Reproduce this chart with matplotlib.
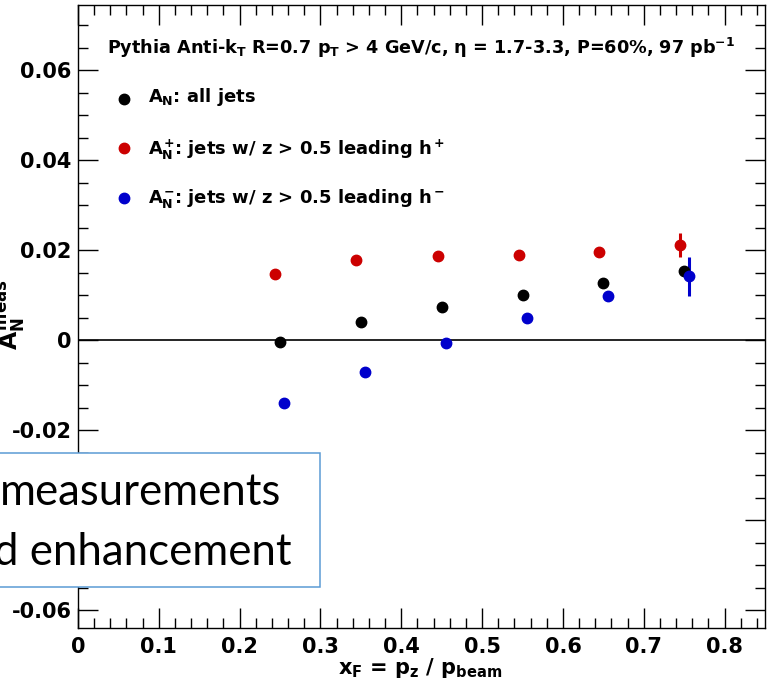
import matplotlib
matplotlib.use("Agg")
import matplotlib.pyplot as plt
from matplotlib.ticker import MultipleLocator
from matplotlib.patches import Rectangle

W, H = 770, 691

plt.rcParams.update({
    "font.family": "DejaVu Sans",
    "font.weight": "bold",
    "mathtext.fontset": "custom",
    "mathtext.rm": "DejaVu Sans:bold",
    "mathtext.it": "DejaVu Sans:bold",
    "mathtext.bf": "DejaVu Sans:bold",
    "mathtext.sf": "DejaVu Sans:bold",
})

# ── data ─────────────────────────────────────────────────────────────
xf_all = [0.250, 0.350, 0.450, 0.550, 0.650, 0.750]
an_all = [-0.0004, 0.0040, 0.0073, 0.0100, 0.0127, 0.0153]
er_all = [0.0003, 0.0004, 0.0005, 0.0006, 0.0008, 0.0010]

xf_pos = [0.244, 0.344, 0.445, 0.546, 0.645, 0.745]
an_pos = [0.0147, 0.0178, 0.0187, 0.0189, 0.0196, 0.0211]
er_pos = [0.0004, 0.0005, 0.0006, 0.0007, 0.0010, 0.0027]

xf_neg = [0.255, 0.355, 0.455, 0.555, 0.656, 0.756]
an_neg = [-0.0140, -0.0071, -0.0007, 0.0049, 0.0098, 0.0142]
er_neg = [0.0005, 0.0006, 0.0007, 0.0008, 0.0011, 0.0043]

labels = [r"$A_N$: all jets",
          r"$A_N^{+}$: jets w/ z > 0.5 leading $h^{+}$",
          r"$A_N^{-}$: jets w/ z > 0.5 leading $h^{-}$"]
colors = ["black", "#cc0000", "#0000cc"]
header = r"Pythia Anti-k$_T$ R=0.7 p$_T$ > 4 GeV/c, η = 1.7-3.3, P=60%, 97 pb$^{-1}$"


def fp(x, y):
    """pixel (from top-left) -> figure fraction"""
    return x / W, 1 - y / H


fig = plt.figure(figsize=(W / 100, H / 100), dpi=100)
ax = fig.add_axes([78 / W, 1 - 628 / H, (765 - 78) / W, (628 - 5) / H])

series = [(xf_all, an_all, er_all), (xf_pos, an_pos, er_pos), (xf_neg, an_neg, er_neg)]
for (xs, ys, es), c in zip(series, colors):
    ax.errorbar(xs, ys, yerr=es, fmt="o", color=c, ms=7.5, elinewidth=2.2,
                capsize=0, mec=c, zorder=3)

ax.axhline(0, color="black", lw=1.2, zorder=2)

ax.set_xlim(0, 0.85)
ax.set_ylim(-0.064, 0.0745)
ax.xaxis.set_major_locator(MultipleLocator(0.1))
ax.xaxis.set_minor_locator(MultipleLocator(0.02))
ax.yaxis.set_major_locator(MultipleLocator(0.02))
ax.yaxis.set_minor_locator(MultipleLocator(0.005))
ax.xaxis.set_major_formatter(lambda v, p: "0" if abs(v) < 1e-9 else f"{v:.1f}")
ax.yaxis.set_major_formatter(lambda v, p: "0" if abs(v) < 1e-9 else f"{v:.2f}")

ax.tick_params(which="both", direction="in", top=True, right=True, width=1.0,
               labelsize=15)
ax.tick_params(which="major", length=14.5)
ax.tick_params(which="minor", length=7.2)
ax.tick_params(axis="x", pad=6.5)
ax.tick_params(axis="y", pad=4.5)
for s in ax.spines.values():
    s.set_linewidth(1.0)

# legend (ROOT-style, no frame)
fig.text(*fp(107, 54), header, fontsize=12.7, ha="left", va="baseline")
for lab, c, ym, yb in zip(labels, colors, [99, 148, 198], [102, 155, 203]):
    fig.lines.append(plt.Line2D([124 / W], [1 - ym / H], marker="o", ms=7.5,
                                color=c, transform=fig.transFigure))
    fig.text(*fp(148, yb), lab, fontsize=13, ha="left", va="baseline")

# axis titles
fig.text(*fp(338, 674), r"x$_F$ = p$_z$ / p$_{beam}$", fontsize=15,
         ha="left", va="baseline")
fig.text(*fp(18, 350), r"$A_N^{meas}$", fontsize=17, rotation=90,
         rotation_mode="anchor", ha="left", va="baseline")

# overlaid slide text box
box = Rectangle(fp(-10, 587), 330 / W, (587 - 453) / H, transform=fig.transFigure,
                facecolor="white", edgecolor="#5b9bd5", lw=1.1, zorder=10)
fig.patches.append(box)
fig.text(*fp(281, 505), "measurements", family="Lato", fontweight="normal",
         fontsize=31.5, ha="right", va="baseline", zorder=11)
fig.text(*fp(292, 565), "d enhancement", family="Lato", fontweight="normal",
         fontsize=31.5, ha="right", va="baseline", zorder=11)

fig.savefig("out.png", dpi=100)
